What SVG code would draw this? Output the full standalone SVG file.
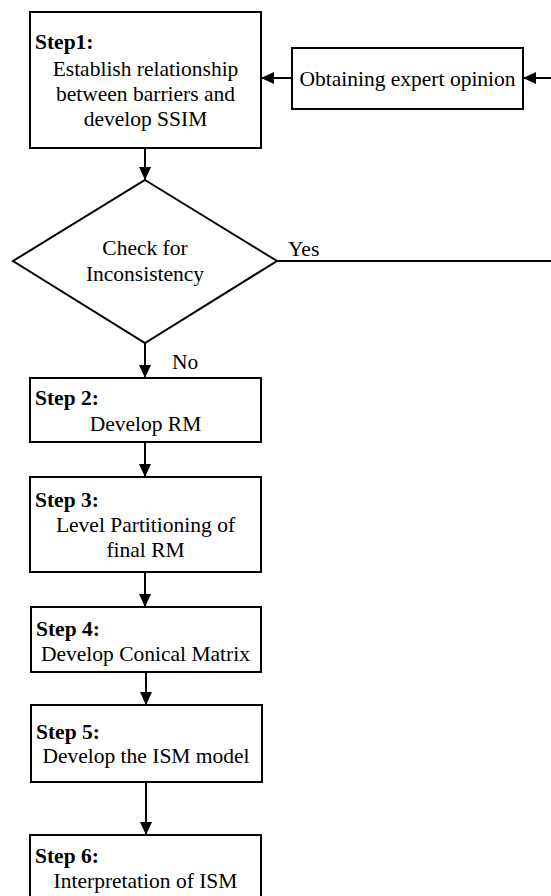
<svg xmlns="http://www.w3.org/2000/svg" width="551" height="896" viewBox="0 0 551 896">
<style>
.box{fill:#fff;stroke:#000;stroke-width:2}
.t{font-size:21.5px;fill:#000}
.b{font-weight:bold}
.c{text-anchor:middle}
.ln{fill:none;stroke:#000;stroke-width:2}
</style>
<defs>
<marker id="ah" markerUnits="userSpaceOnUse" markerWidth="13" markerHeight="12" refX="13" refY="6" orient="auto">
<path d="M0,0 L13,6 L0,12 Z" fill="#000"/>
</marker>
</defs>
<rect width="551" height="896" fill="#fff"/>
<g font-family="Liberation Serif, DejaVu Serif, serif">
<g id="step1">
<rect class="box" x="30" y="12" width="231" height="136"/>
<text class="t b" x="35" y="49">Step1:</text>
<text class="t c" x="145.5" y="76">Establish relationship</text>
<text class="t c" x="145.5" y="101">between barriers and</text>
<text class="t c" x="145.5" y="126">develop SSIM</text>
</g>
<g id="expert">
<rect class="box" x="292" y="48" width="231" height="61"/>
<text class="t c" x="407.5" y="86">Obtaining expert opinion</text>
</g>
<g id="check">
<polygon class="box" points="145,180 277,261 145,343 13,261"/>
<text class="t c" x="145" y="255">Check for</text>
<text class="t c" x="145" y="281">Inconsistency</text>
</g>
<g id="step2">
<rect class="box" x="30" y="378" width="231" height="64"/>
<text class="t b" x="35" y="405">Step 2:</text>
<text class="t c" x="145.5" y="431">Develop RM</text>
</g>
<g id="step3">
<rect class="box" x="30" y="477" width="231" height="95"/>
<text class="t b" x="35" y="507">Step 3:</text>
<text class="t c" x="145.5" y="532">Level Partitioning of</text>
<text class="t c" x="145.5" y="557">final RM</text>
</g>
<g id="step4">
<rect class="box" x="31" y="607" width="230" height="65"/>
<text class="t b" x="36" y="636">Step 4:</text>
<text class="t c" x="145.5" y="661">Develop Conical Matrix</text>
</g>
<g id="step5">
<rect class="box" x="31" y="705" width="231" height="77"/>
<text class="t b" x="36" y="739">Step 5:</text>
<text class="t c" x="146" y="763">Develop the ISM model</text>
</g>
<g id="step6">
<rect class="box" x="30" y="835" width="231" height="70"/>
<text class="t b" x="35" y="863">Step 6:</text>
<text class="t c" x="145.5" y="888">Interpretation of ISM</text>
</g>
<g id="connectors">
<line class="ln" x1="551" y1="78" x2="523" y2="78" marker-end="url(#ah)"/>
<line class="ln" x1="292" y1="78" x2="261" y2="78" marker-end="url(#ah)"/>
<line class="ln" x1="145" y1="148" x2="145" y2="180" marker-end="url(#ah)"/>
<line class="ln" x1="277" y1="261" x2="551" y2="261"/>
<text class="t" x="288" y="256">Yes</text>
<line class="ln" x1="145" y1="343" x2="145" y2="378" marker-end="url(#ah)"/>
<text class="t" x="172" y="369">No</text>
<line class="ln" x1="145" y1="442" x2="145" y2="477" marker-end="url(#ah)"/>
<line class="ln" x1="145" y1="572" x2="145" y2="607" marker-end="url(#ah)"/>
<line class="ln" x1="146" y1="672" x2="146" y2="705" marker-end="url(#ah)"/>
<line class="ln" x1="146" y1="782" x2="146" y2="835" marker-end="url(#ah)"/>
</g>
</g>
</svg>
